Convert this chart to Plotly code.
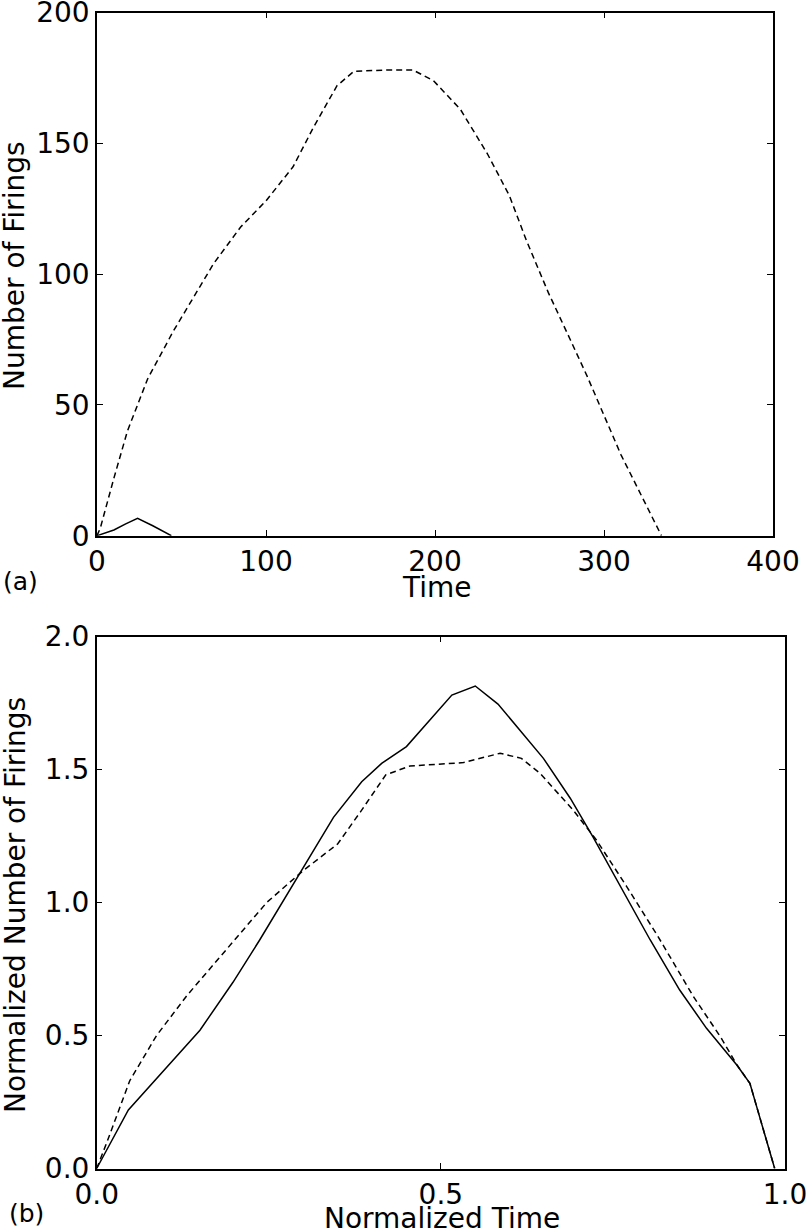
import plotly.graph_objects as go

# (a) raw firing counts over time
time_a_dashed = [0, 2, 10, 18, 30, 45, 57, 69, 85, 100, 116, 128, 142, 152, 170, 187, 199, 215, 231, 244, 254, 267, 280, 290, 310, 334]
firings_a_dashed = [0, 3, 22, 40, 60, 78, 91, 104, 118, 128, 141, 156, 172, 177.5, 178, 178, 174, 163, 146, 130, 113, 93, 75, 61, 31, 0]
time_a_solid = [0, 10, 17, 24, 33, 44]
firings_a_solid = [0, 2.2, 4.5, 6.6, 3.8, 0]

# (b) normalized firings vs normalized time
ntime_b_solid = [0, 0.046, 0.15, 0.198, 0.237, 0.295, 0.344, 0.385, 0.414, 0.45, 0.516, 0.55, 0.583, 0.649, 0.688, 0.721, 0.804, 0.847, 0.886, 0.93, 0.949, 0.985]
nfirings_b_solid = [0, 0.22, 0.52, 0.70, 0.86, 1.11, 1.32, 1.454, 1.523, 1.586, 1.78, 1.814, 1.746, 1.542, 1.392, 1.247, 0.86, 0.671, 0.527, 0.389, 0.32, 0]
ntime_b_dashed = [0, 0.015, 0.048, 0.087, 0.131, 0.19, 0.247, 0.30, 0.35, 0.383, 0.42, 0.455, 0.518, 0.533, 0.586, 0.617, 0.644, 0.692, 0.726, 0.77, 0.816, 0.867, 0.906, 0.93, 0.949, 0.985]
nfirings_b_dashed = [0, 0.1, 0.33, 0.5, 0.65, 0.83, 1.0, 1.12, 1.22, 1.34, 1.48, 1.513, 1.523, 1.526, 1.561, 1.542, 1.486, 1.348, 1.235, 1.06, 0.87, 0.646, 0.496, 0.39, 0.32, 0]

xticks_a = [0, 100, 200, 300, 400]
yticks_a = [0, 50, 100, 150, 200]
xticks_b = [0, 0.5, 1.0]
yticks_b = [0, 0.5, 1.0, 1.5, 2.0]

W, H = 810, 1230
FONT = "DejaVu Sans"
dash = "6px,4px"

fig = go.Figure()
fig.add_trace(go.Scatter(x=time_a_dashed, y=firings_a_dashed, mode="lines",
                         line=dict(color="black", width=1.5, dash=dash), xaxis="x", yaxis="y"))
fig.add_trace(go.Scatter(x=time_a_solid, y=firings_a_solid, mode="lines",
                         line=dict(color="black", width=1.5), xaxis="x", yaxis="y"))
fig.add_trace(go.Scatter(x=ntime_b_dashed, y=nfirings_b_dashed, mode="lines",
                         line=dict(color="black", width=1.5, dash=dash), xaxis="x2", yaxis="y2"))
fig.add_trace(go.Scatter(x=ntime_b_solid, y=nfirings_b_solid, mode="lines",
                         line=dict(color="black", width=1.5), xaxis="x2", yaxis="y2"))

ax = dict(showline=True, linecolor="black", linewidth=1.5, mirror="ticks",
          ticks="inside", ticklen=6, tickwidth=1.2, tickcolor="black",
          showgrid=False, zeroline=False, ticklabeloverflow="allow",
          tickfont=dict(size=28, color="black"))

fig.update_layout(
    width=W, height=H, template="none",
    paper_bgcolor="white", plot_bgcolor="white",
    font=dict(family=FONT, color="black", size=28),
    margin=dict(l=0, r=0, t=0, b=0),
    showlegend=False,
    xaxis=dict(ax, domain=[97 / W, 773 / W], range=[0, 400], tickvals=xticks_a, anchor="y"),
    yaxis=dict(ax, domain=[1 - 535.7 / H, 1 - 12.5 / H], range=[0, 200], tickvals=yticks_a, anchor="x"),
    xaxis2=dict(ax, domain=[96.7 / W, 785 / W], range=[0, 1], tickvals=xticks_b,
                tickformat=".1f", anchor="y2"),
    yaxis2=dict(ax, domain=[1 - 1168.5 / H, 1 - 636.5 / H], range=[0, 2], tickvals=yticks_b,
                tickformat=".1f", anchor="x2"),
)

# axis titles and panel letters, placed in pixels
def label(text, xpx, ypx, size=28, angle=0, xanchor="center"):
    fig.add_annotation(text=text, x=xpx / W, y=1 - ypx / H, xref="paper", yref="paper",
                       xanchor=xanchor, yanchor="middle", showarrow=False, textangle=angle,
                       font=dict(size=size, family=FONT, color="black"))

label("Time", 437, 587)
label("Number of Firings", 14, 266, angle=-90)
label("Normalized Time", 442, 1218)
label("Normalized Number of Firings", 16, 905, angle=-90)
label("(a)", 1, 581, size=25, xanchor="left")
label("(b)", 7, 1213, size=25, xanchor="left")

fig.write_html("out.html", config={"displayModeBar": False},
               post_script="document.body.style.margin='0';document.body.style.overflow='hidden';")
